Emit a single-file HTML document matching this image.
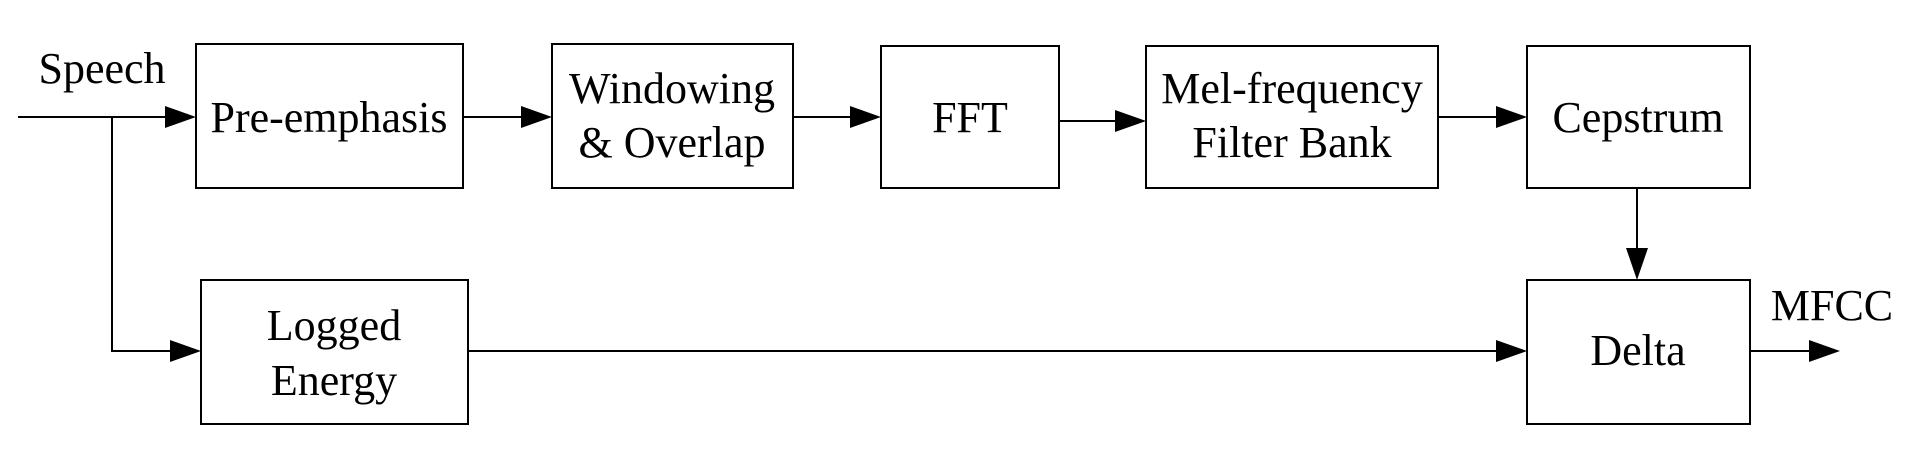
<!DOCTYPE html>
<html><head><style>html,body{margin:0;padding:0;background:#fff;}svg{display:block}</style></head>
<body>
<svg width="1916" height="468" viewBox="0 0 1916 468" xmlns="http://www.w3.org/2000/svg">
<g fill="none" stroke="#000" stroke-width="2">
<rect x="196" y="44" width="267" height="144"/>
<rect x="552" y="44" width="241" height="144"/>
<rect x="881" y="46" width="178" height="142"/>
<rect x="1146" y="46" width="292" height="142"/>
<rect x="1527" y="46" width="223" height="142"/>
<rect x="1527" y="280" width="223" height="144"/>
<rect x="201" y="280" width="267" height="144"/>
<polyline points="18,117 166,117"/>
<polyline points="112,117 112,351 170,351"/>
<line x1="463" y1="117" x2="522" y2="117"/>
<line x1="793" y1="117" x2="851" y2="117"/>
<line x1="1059" y1="121" x2="1116" y2="121"/>
<line x1="1438" y1="117" x2="1497" y2="117"/>
<line x1="468" y1="351" x2="1497" y2="351"/>
<line x1="1637" y1="188" x2="1637" y2="250"/>
<line x1="1750" y1="351" x2="1810" y2="351"/>
</g>
<g fill="#000">
<polygon points="165,106 196,117 165,128"/>
<polygon points="521,106 552,117 521,128"/>
<polygon points="850,106 881,117 850,128"/>
<polygon points="1115,110 1146,121 1115,132"/>
<polygon points="1496,106 1527,117 1496,128"/>
<polygon points="170,340 201,351 170,362"/>
<polygon points="1496,340 1527,351 1496,362"/>
<polygon points="1809,340 1840,351 1809,362"/>
<polygon points="1626,248 1648,248 1637,280"/>
</g>
<g font-family="Liberation Serif, serif" font-size="44" fill="#000" text-anchor="middle">
<text x="102" y="83">Speech</text>
<text x="329" y="132">Pre-emphasis</text>
<text x="672" y="103">Windowing</text>
<text x="672" y="157">&amp; Overlap</text>
<text x="970" y="132">FFT</text>
<text x="1292" y="103">Mel-frequency</text>
<text x="1292" y="157">Filter Bank</text>
<text x="1638" y="132">Cepstrum</text>
<text x="334" y="340">Logged</text>
<text x="334" y="395">Energy</text>
<text x="1638" y="365">Delta</text>
<text x="1832" y="320">MFCC</text>
</g>
</svg>
</body></html>
